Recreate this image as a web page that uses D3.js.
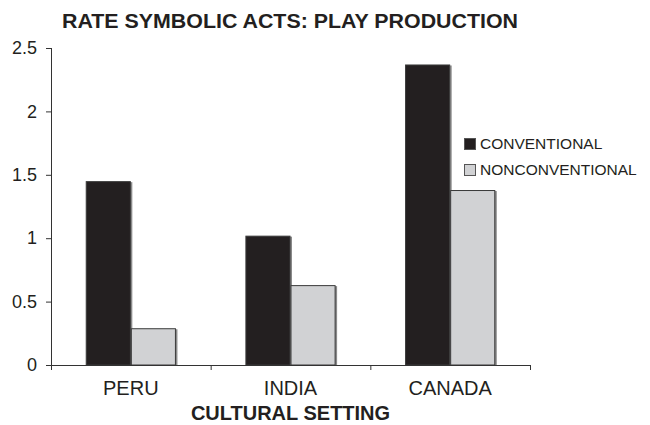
<!DOCTYPE html>
<html lang="en">
<head>
<meta charset="UTF-8">
<title>Rate symbolic acts</title>
<script src="https://cdn.jsdelivr.net/npm/d3@7"></script>
<style>
  body { margin: 0; background: #fff; }
  text { font-family: Arial, "Liberation Sans", Helvetica, sans-serif; fill: #231f20; }
</style>
</head>
<body>
<script>
var categories = ["PERU", "INDIA", "CANADA"];
var series = ["CONVENTIONAL", "NONCONVENTIONAL"];
var conventional = [1.45, 1.02, 2.37];
var nonconventional = [0.29, 0.63, 1.38];
var yTicks = [0, 0.5, 1, 1.5, 2, 2.5];

var w = 650, h = 425;
var plotLeft = 51, plotRight = 530, plotTop = 48, plotBottom = 365;
var colors = { "CONVENTIONAL": "#231f20", "NONCONVENTIONAL": "#d1d2d4" };

var svg = d3.select("body").append("svg")
  .attr("width", w)
  .attr("height", h);

var x0 = d3.scaleBand().domain(categories).range([plotLeft, plotRight]).padding(0);
var x1 = d3.scaleBand().domain(series).range([0, x0.bandwidth()])
  .paddingInner(0).paddingOuter(0.77);
var y = d3.scaleLinear().domain([0, 2.5]).range([plotBottom, plotTop]);

var rows = categories.map(function(c, i) {
  return { cat: c, vals: [
    { s: "CONVENTIONAL", v: conventional[i] },
    { s: "NONCONVENTIONAL", v: nonconventional[i] }
  ]};
});

var groups = svg.selectAll("g.grp")
  .data(rows)
  .enter().append("g")
  .attr("class", "grp")
  .attr("transform", function(d) { return "translate(" + x0(d.cat) + ",0)"; });

// shadow on right side
groups.selectAll("rect.shadow")
  .data(function(d) { return d.vals; })
  .enter().append("rect")
  .attr("class", "shadow")
  .attr("x", function(d) { return x1(d.s) + x1.bandwidth() - 1; })
  .attr("y", function(d) { return y(d.v) + 1; })
  .attr("width", 2.5)
  .attr("height", function(d) { return plotBottom - y(d.v) - 1; })
  .attr("fill", "#8a8a8a");

groups.selectAll("rect.bar")
  .data(function(d) { return d.vals; })
  .enter().append("rect")
  .attr("class", "bar")
  .attr("x", function(d) { return x1(d.s) + 0.5; })
  .attr("y", function(d) { return y(d.v) + 0.5; })
  .attr("width", x1.bandwidth() - 1)
  .attr("height", function(d) { return plotBottom - y(d.v) - 0.5; })
  .attr("fill", function(d) { return colors[d.s]; })
  .attr("stroke", "#3a3a3a")
  .attr("stroke-width", 1);

// y axis
var yAxis = svg.append("g")
  .attr("transform", "translate(" + plotLeft + ",0)")
  .call(d3.axisLeft(y).tickValues(yTicks).tickFormat(d3.format("~g")).tickSize(5).tickPadding(9));
yAxis.selectAll("text").style("font-size", "18px").attr("fill", "#231f20");
yAxis.selectAll("line, path").attr("stroke", "#333");
yAxis.select("path").attr("d", "M0.5," + plotTop + "V" + plotBottom);

// x axis
var xAxis = svg.append("g")
  .attr("transform", "translate(0," + plotBottom + ")");
xAxis.append("line")
  .attr("x1", plotLeft).attr("x2", plotRight)
  .attr("y1", 0.5).attr("y2", 0.5)
  .attr("stroke", "#333");
var bounds = categories.map(function(c) { return x0(c); }).concat([plotRight]);
xAxis.selectAll("line.tick")
  .data(bounds)
  .enter().append("line")
  .attr("class", "tick")
  .attr("x1", function(d) { return d + 0.5; })
  .attr("x2", function(d) { return d + 0.5; })
  .attr("y1", 0).attr("y2", 5)
  .attr("stroke", "#333");
xAxis.selectAll("text.cat")
  .data(categories)
  .enter().append("text")
  .attr("class", "cat")
  .attr("x", function(d) { return x0(d) + x0.bandwidth() / 2; })
  .attr("y", 30)
  .attr("text-anchor", "middle")
  .style("font-size", "20px")
  .text(function(d) { return d; });

// titles
svg.append("text")
  .attr("x", 62)
  .attr("y", 28)
  .attr("textLength", 456)
  .attr("lengthAdjust", "spacingAndGlyphs")
  .style("font-size", "20.5px")
  .style("font-weight", "bold")
  .text("RATE SYMBOLIC ACTS: PLAY PRODUCTION");

svg.append("text")
  .attr("x", (plotLeft + plotRight) / 2)
  .attr("y", 420)
  .attr("text-anchor", "middle")
  .style("font-size", "20px")
  .style("font-weight", "bold")
  .text("CULTURAL SETTING");

// legend
var legend = svg.selectAll("g.leg")
  .data(series)
  .enter().append("g")
  .attr("class", "leg")
  .attr("transform", function(d, i) { return "translate(464," + (138 + i * 26) + ")"; });
legend.append("rect")
  .attr("x", 0.5).attr("y", 0.5)
  .attr("width", 11).attr("height", 11)
  .attr("fill", function(d) { return colors[d]; })
  .attr("stroke", "#555");
legend.append("text")
  .attr("x", 16)
  .attr("y", 11)
  .style("font-size", "15.5px")
  .text(function(d) { return d; });
</script>
</body>
</html>
